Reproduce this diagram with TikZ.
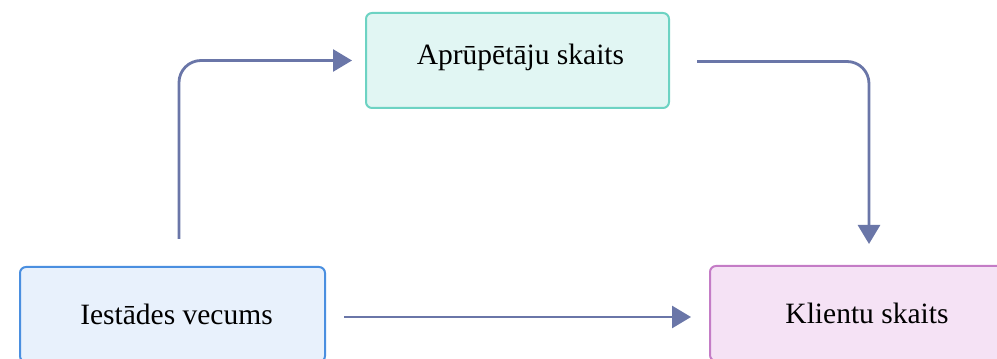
\documentclass[tikz,border=0pt]{standalone}
\usepackage{fontspec}
\setmainfont{Liberation Serif}
\usetikzlibrary{arrows.meta,calc}

\definecolor{tealfill}{HTML}{E1F6F3}
\definecolor{tealline}{HTML}{6DD3C3}
\definecolor{bluefill}{HTML}{E8F1FC}
\definecolor{blueline}{HTML}{4A8FE0}
\definecolor{pinkfill}{HTML}{F5E2F5}
\definecolor{pinkline}{HTML}{C47CC6}
\definecolor{conncol}{HTML}{6A76A8}

\tikzset{
  box/.style={draw, line width=2pt, rounded corners=6pt, minimum height=95pt,
    inner sep=0pt},
  label text/.style={font=\fontsize{29.5}{34}\selectfont, text=black},
  conn/.style={draw=conncol, line width=2.8pt, rounded corners=22pt,
    -{Triangle[length=19pt,width=22pt]}}
}

\begin{document}
\begin{tikzpicture}[x=1pt,y=1pt]
  \useasboundingbox (0,0) rectangle (997,359);

  % the three variables
  \node[box, draw=tealline, fill=tealfill, minimum width=303pt] (carers) at (517.5,298.5) {};
  \node[label text] (carerstext) at ($(carers.center)+(3,3)$) {Aprūpētāju skaits};

  \node[box, draw=blueline, fill=bluefill, minimum width=305pt] (age) at (172.5,44.5) {};
  \node[label text] (agetext) at ($(age.center)+(4,0)$) {Iestādes vecums};

  \node[box, draw=pinkline, fill=pinkfill, minimum width=314pt] (clients) at (867,45.5) {};
  \node[label text] (clientstext) at (clients.center) {Klientu skaits};

  % connectors
  \coordinate (a1) at ($(age.north)+(6.5,27)$);
  \draw[conn] (a1) |- ($(carers.west)+(-13,0)$);

  \coordinate (a2) at ($(carers.east)+(27,-1)$);
  \draw[conn] (a2) -| ($(clients.north)+(2,21)$);

  \draw[conn] ($(age.east)+(18,-2.5)$) -- ($(clients.west)+(-18,-3.5)$);
\end{tikzpicture}
\end{document}
